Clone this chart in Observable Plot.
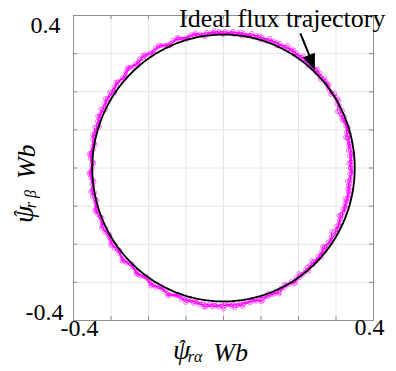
<!DOCTYPE html>
<html>
<head>
<meta charset="utf-8">
<script src="https://cdn.jsdelivr.net/npm/d3@7"></script>
<script src="https://cdn.jsdelivr.net/npm/@observablehq/plot@0.6"></script>
<style>
  body { margin: 0; background: #fff; }
  #chart svg { display: block; }
</style>
</head>
<body>
<div id="chart"></div>
<script>
// Axis ticks (Wb) and the two end values that carry labels
const axisTicks = [-0.4, -0.3, -0.2, -0.1, 0, 0.1, 0.2, 0.3, 0.4];
const labelTicks = [-0.4, 0.4];

// Reference (ideal) rotor flux magnitude, Wb
const idealRadius = 0.35;

// Estimated flux trajectory: four revolutions sampled every 4 degrees,
// stored as deviation from the ideal magnitude in mWb
const sampleStepDeg = 4;
const passStartDeg = [0, 1.3, 2.7, 2.0];
const pass1 = [-12,-8,-14,-6,-9,-3,-7,0,2,-2,5,8,3,9,6,11,5,9,4,8,3,7,5,9,4,7,10,6,11,8,
  13,9,14,8,12,7,11,6,10,5,8,3,7,1,6,0,5,2,8,3,7,4,9,5,10,6,9,4,10,7,
  12,6,9,13,8,14,9,15,8,12,6,10,4,7,1,3,-3,0,-6,-2,-9,-4,-11,-6,-12,-7,-13,-8,-14,-9];
const pass2 = [-7,-13,-5,-11,-2,-8,1,-4,5,0,8,2,10,4,9,3,10,5,8,2,7,1,8,3,9,5,6,12,5,11,
  7,14,8,13,6,12,5,9,4,9,2,7,1,5,-1,4,-1,5,1,6,2,8,3,9,4,10,3,8,5,11,
  5,12,7,10,14,7,16,9,13,7,11,3,8,2,5,-2,2,-5,-1,-8,-3,-10,-5,-12,-6,-14,-9,-12,-7,-13];
const pass3 = [-10,-5,-9,-3,-6,0,-4,3,-1,4,1,6,7,2,12,6,8,2,10,5,9,4,2,6,1,9,4,8,3,13,
  10,6,11,15,9,8,13,7,12,3,10,5,4,8,2,7,3,-1,4,8,5,1,6,2,7,11,6,11,2,9,
  8,14,4,7,11,17,12,6,18,10,8,13,6,9,-1,6,0,-7,-3,-5,-11,-7,-3,-9,-15,-10,-6,-15,-11,-6];
const pass4 = [-16,-4,-11,-15,-1,-9,-12,5,-5,7,-2,11,0,13,2,14,1,12,0,11,-1,10,0,11,-1,12,2,14,1,15,
  4,16,3,17,2,15,1,14,0,12,-2,10,-3,9,-4,9,-3,10,-2,11,-1,12,0,13,1,14,0,13,1,15,
  2,16,3,17,4,19,5,20,4,18,2,15,0,12,-4,8,-8,4,-12,1,-15,-2,-17,-4,-18,-5,-17,-4,-18,-5];

// Annotation
const annotationText = "Ideal flux trajectory";
const annotationAt = {x: 0.432, y: 0.369};
const arrowLine = [{x1: 0.205, y1: 0.353, x2: 0.241, y2: 0.266}];
const arrowTip = {x: 0.245, y: 0.256};

const serif = "Liberation Serif, Times New Roman, serif";

// Build the measured trajectory as one continuous path
const toRad = Math.PI / 180;
const measured = [];
[pass1, pass2, pass3, pass4].forEach((pass, p) => {
  pass.forEach((dev, i) => {
    const a = (passStartDeg[p] + i * sampleStepDeg) * toRad;
    const r = idealRadius + dev / 1000;
    measured.push({x: r * Math.cos(a), y: r * Math.sin(a)});
  });
});
measured.push(measured[0]);

// Ideal circle
const ideal = d3.range(0, 361, 2).map(deg => ({
  x: idealRadius * Math.cos(deg * toRad),
  y: idealRadius * Math.sin(deg * toRad)
}));

// Filled head of the annotation arrow, drawn in screen space
function arrowHead(index, scales) {
  const a = arrowLine[0];
  const x0 = scales.x(a.x1), y0 = scales.y(a.y1);
  const x1 = scales.x(arrowTip.x), y1 = scales.y(arrowTip.y);
  const dx = x1 - x0, dy = y1 - y0, L = Math.hypot(dx, dy);
  const ux = dx / L, uy = dy / L;
  const len = 16, half = 6.5;
  const bx = x1 - ux * len, by = y1 - uy * len;
  return d3.create("svg:path")
    .attr("d", `M${x1},${y1}L${bx - uy * half},${by + ux * half}L${bx + uy * half},${by - ux * half}Z`)
    .attr("fill", "#000")
    .node();
}

const W = 396, H = 371;
const mL = 73, mR = 23, mT = 15, mB = 51;
const innerW = W - mL - mR, innerH = H - mT - mB;
const tickLen = 4;

const chart = Plot.plot({
  width: W,
  height: H,
  marginLeft: mL,
  marginRight: mR,
  marginTop: mT,
  marginBottom: mB,
  style: {fontFamily: serif, background: "#fff", overflow: "visible"},
  x: {domain: [-0.4, 0.4], axis: null},
  y: {domain: [-0.4, 0.4], axis: null},
  marks: [
    Plot.gridX(axisTicks, {stroke: "#e6e6e6", strokeOpacity: 1, strokeWidth: 1}),
    Plot.gridY(axisTicks, {stroke: "#e6e6e6", strokeOpacity: 1, strokeWidth: 1}),
    // inward tick marks on all four sides
    Plot.tickY(axisTicks, {y: d => d, insetRight: innerW - tickLen, stroke: "#8a8a8a"}),
    Plot.tickY(axisTicks, {y: d => d, insetLeft: innerW - tickLen, stroke: "#8a8a8a"}),
    Plot.tickX(axisTicks, {x: d => d, insetTop: innerH - tickLen, stroke: "#8a8a8a"}),
    Plot.tickX(axisTicks, {x: d => d, insetBottom: innerH - tickLen, stroke: "#8a8a8a"}),
    Plot.frame({stroke: "#8f8f8f", strokeWidth: 1}),
    Plot.line(measured, {x: "x", y: "y", stroke: "#ff00ff", strokeWidth: 1, strokeOpacity: 0.85}),
    Plot.dot(measured, {x: "x", y: "y", r: 2, stroke: "#ff00ff", strokeWidth: 0.8, strokeOpacity: 0.7, fill: "none"}),
    Plot.line(ideal, {x: "x", y: "y", stroke: "#000", strokeWidth: 1.8}),
    // tick labels
    Plot.text([labelTicks[1]], {y: d => d, frameAnchor: "left", dx: -13, dy: 10, textAnchor: "end", fontSize: 24, fill: "#000", text: d => String(d)}),
    Plot.text([labelTicks[0]], {y: d => d, frameAnchor: "left", dx: -10, dy: -8, textAnchor: "end", fontSize: 24, fill: "#000", text: d => String(d)}),
    Plot.text([labelTicks[0]], {x: d => d, frameAnchor: "bottom", dx: 6, dy: 15, textAnchor: "middle", fontSize: 24, fill: "#000", text: d => String(d)}),
    Plot.text([labelTicks[1]], {x: d => d, frameAnchor: "bottom", dx: -4, dy: 14, textAnchor: "middle", fontSize: 24, fill: "#000", text: d => String(d)}),
    // annotation
    Plot.text([annotationText], {x: annotationAt.x, y: annotationAt.y, text: d => d, textAnchor: "end", lineAnchor: "bottom", fontSize: 26, fill: "#000"}),
    Plot.link(arrowLine, {x1: "x1", y1: "y1", x2: "x2", y2: "y2", stroke: "#000", strokeWidth: 2}),
    arrowHead
  ]
});

// Axis titles: psi with a hat, subscript, then the unit
const svg = d3.select(chart);
function axisTitle(sel, sub) {
  sel.attr("font-family", serif).attr("fill", "#000").attr("font-style", "italic");
  sel.append("tspan").attr("font-size", 28).text("\u03C8");
  sel.append("tspan").attr("font-size", 22).attr("dx", -13).attr("dy", -4).text("\u02C6");
  sel.append("tspan").attr("font-size", 16).attr("dx", 3).attr("dy", 7).text(sub);
  sel.append("tspan").attr("font-size", 26).attr("dx", 11).attr("dy", -1).text("Wb");
}
axisTitle(svg.append("text")
  .attr("text-anchor", "start")
  .attr("x", 173)
  .attr("y", 359), "r\u03B1");
axisTitle(svg.append("text")
  .attr("text-anchor", "start")
  .attr("transform", `translate(${33},${223}) rotate(-90)`), "r \u03B2");

document.getElementById("chart").appendChild(chart);
</script>
</body>
</html>
